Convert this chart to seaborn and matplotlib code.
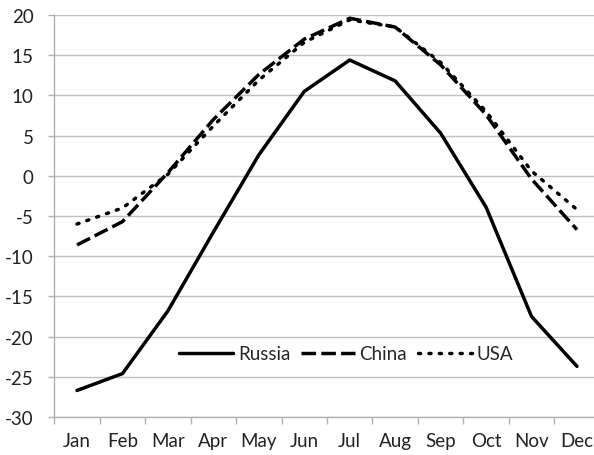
import numpy as np
import pandas as pd
import seaborn as sns
import matplotlib.pyplot as plt
from matplotlib.ticker import FixedLocator

months = ["Jan", "Feb", "Mar", "Apr", "May", "Jun",
          "Jul", "Aug", "Sep", "Oct", "Nov", "Dec"]
russia = [-26.7, -24.6, -16.8, -7.0, 2.6, 10.5, 14.4, 11.8, 5.3, -3.9, -17.5, -23.7]
china = [-8.6, -5.7, 0.4, 7.0, 12.6, 17.0, 19.6, 18.5, 13.8, 7.6, -0.4, -6.7]
usa = [-6.0, -4.0, 0.2, 6.2, 11.9, 16.6, 19.4, 18.5, 14.1, 8.0, 0.6, -4.2]
y_ticks = list(range(-30, 25, 5))

sns.set_theme(style="white")
plt.rcParams["font.family"] = ["Lato", "DejaVu Sans"]

df = pd.DataFrame({
    "month": months * 3,
    "pos": list(range(12)) * 3,
    "temp": russia + china + usa,
    "country": ["Russia"] * 12 + ["China"] * 12 + ["USA"] * 12,
})

fig = plt.figure(figsize=(5.94, 4.56), dpi=100)
ax = fig.add_axes([54.3 / 594, 1 - 418 / 456, 545.4 / 594, 402 / 456])

styles = {"Russia": "-", "China": (0, (4.2, 1.5)), "USA": (0, (0.6, 2.4))}
for name, ls in styles.items():
    sub = df[df["country"] == name]
    sns.lineplot(data=sub, x="pos", y="temp", ax=ax, color="black",
                 linewidth=2.5, label=name, sort=False)
    ax.lines[-1].set_linestyle(ls)
    if name == "USA":
        ax.lines[-1].set_dash_capstyle("round")

ax.set_xlim(-0.5, 11.5)
ax.set_ylim(-30, 20)
ax.set_yticks(y_ticks)
ax.set_yticklabels([str(t) for t in y_ticks])
ax.set_xticks(range(12))
ax.set_xticklabels(months)
ax.xaxis.set_minor_locator(FixedLocator(np.arange(-0.5, 12, 1)))
ax.tick_params(axis="x", which="major", length=0, pad=11, labelsize=13.5, colors="#222222")
ax.tick_params(axis="x", which="minor", length=5, width=1, color="#b0b0b0", bottom=True)
ax.tick_params(axis="y", length=4, width=1, pad=11, labelsize=13.5,
               color="#b0b0b0", labelcolor="#222222", left=True)
ax.set_xlabel("")
ax.set_ylabel("")

ax.grid(axis="y", color="#c0c0c0", linewidth=1)
ax.set_axisbelow(True)
for side in ["top", "right"]:
    ax.spines[side].set_visible(False)
for side in ["left", "bottom"]:
    ax.spines[side].set_color("#b0b0b0")
    ax.spines[side].set_linewidth(1)

leg = ax.legend(loc="center", bbox_to_anchor=(346 / 594, 1 - 355 / 456),
                bbox_transform=fig.transFigure, ncol=3, frameon=False,
                handlelength=2.9, handletextpad=0.25, columnspacing=0.55,
                fontsize=13.5)

fig.savefig("out.png", dpi=100)
